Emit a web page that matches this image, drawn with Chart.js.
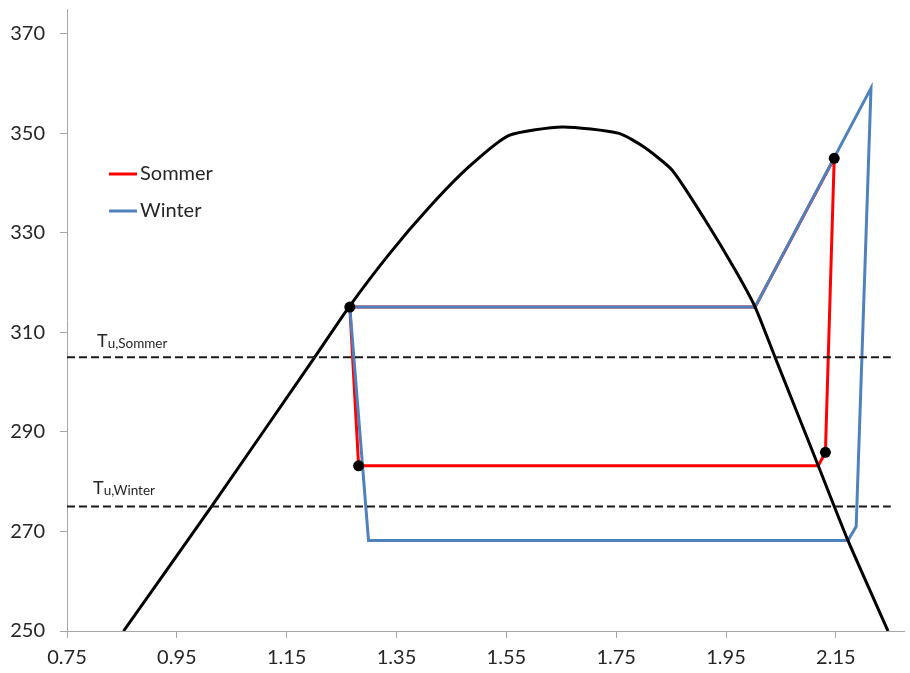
<!DOCTYPE html>
<html>
<head>
<meta charset="utf-8">
<script src="https://cdn.jsdelivr.net/npm/chart.js@4/dist/chart.umd.min.js"></script>
<style>
  body { margin: 0; background: #fff; }
  canvas { display: block; }
</style>
</head>
<body>
<canvas id="chart" width="910" height="673"></canvas>
<script>
// axis ticks
var xTicks = [0.75, 0.95, 1.15, 1.35, 1.55, 1.75, 1.95, 2.15];
var yTicks = [250, 270, 290, 310, 330, 350, 370];

// saturation dome
var domeX = [0.853, 1.013, 1.199, 1.264, 1.337, 1.41, 1.482, 1.555, 1.652, 1.755, 1.80, 1.852, 1.912, 1.967, 2.003, 2.039, 2.118, 2.172, 2.245];
var domeY = [250, 275, 304.7, 315.2, 325.8, 335.2, 343.3, 349.6, 351.3, 350.0, 347.3, 342.6, 332.6, 322.5, 315.1, 305.1, 283.2, 268.2, 250];

// Sommer cycle
var sommerX = [1.265, 1.281, 2.118, 2.131, 2.147, 2.003, 1.265];
var sommerY = [315.1, 283.2, 283.2, 285.9, 345.0, 315.1, 315.1];

// Winter cycle
var winterX = [1.265, 1.299, 2.172, 2.187, 2.214, 2.003, 1.265];
var winterY = [315.1, 268.2, 268.2, 271.0, 359.1, 315.1, 315.1];

// marked state points
var dotX = [1.265, 1.281, 2.131, 2.147];
var dotY = [315.1, 283.2, 285.9, 345.0];

// ambient temperatures
var tuSommer = 305;
var tuWinter = 275;
var tuX = [0.75, 2.25];

function pts(xs, ys) {
  var out = [];
  for (var i = 0; i < xs.length; i++) {
    out.push({x: xs[i], y: ys[i]});
  }
  return out;
}

function hline(y) {
  return tuX.map(function(x) { return {x: x, y: y}; });
}

var FONT = 'Lato, "Noto Sans", sans-serif';

// legend and Tu labels drawn on top of the plot
var overlay = {
  id: 'overlay',
  afterDraw: function(chart) {
    var ctx = chart.ctx;
    var area = chart.chartArea;
    var ys = chart.scales.y;
    ctx.save();

    // legend
    var items = [['Sommer', '#ff0000', 174], ['Winter', '#4f81bd', 211]];
    items.forEach(function(it) {
      ctx.strokeStyle = it[1];
      ctx.lineWidth = 3;
      ctx.beginPath();
      ctx.moveTo(109, it[2]);
      ctx.lineTo(137, it[2]);
      ctx.stroke();
      ctx.fillStyle = '#262626';
      ctx.font = '20px ' + FONT;
      ctx.textBaseline = 'middle';
      ctx.fillText(it[0], 140, it[2]);
    });

    // Tu labels
    function tu(x, y, sub) {
      ctx.fillStyle = '#262626';
      ctx.textBaseline = 'alphabetic';
      ctx.font = '18px ' + FONT;
      ctx.fillText('T', x, y);
      var w = ctx.measureText('T').width;
      ctx.font = '13.5px ' + FONT;
      ctx.fillText(sub, x + w, y + 1);
    }
    tu(area.left + 30, ys.getPixelForValue(tuSommer) - 10, 'u,Sommer');
    tu(area.left + 26, ys.getPixelForValue(tuWinter) - 13, 'u,Winter');

    ctx.restore();
  }
};

new Chart(document.getElementById('chart'), {
  type: 'scatter',
  data: {
    datasets: [
      {
        data: pts(dotX, dotY),
        showLine: false,
        pointRadius: 5.5,
        pointBackgroundColor: '#000',
        pointBorderWidth: 0,
        order: 0
      },
      {
        data: hline(tuSommer),
        showLine: true,
        borderColor: '#1a1a1a',
        borderWidth: 2,
        borderDash: [8, 4],
        pointRadius: 0,
        order: 1
      },
      {
        data: hline(tuWinter),
        showLine: true,
        borderColor: '#1a1a1a',
        borderWidth: 2,
        borderDash: [8, 4],
        pointRadius: 0,
        order: 2
      },
      {
        data: pts(domeX, domeY),
        showLine: true,
        borderColor: '#000',
        borderWidth: 3,
        pointRadius: 0,
        tension: 0.2,
        order: 3
      },
      {
        data: pts(winterX, winterY),
        showLine: true,
        borderColor: '#4f81bd',
        borderWidth: 3,
        pointRadius: 0,
        order: 4
      },
      {
        data: pts(sommerX, sommerY),
        showLine: true,
        borderColor: '#ff0000',
        borderWidth: 3,
        pointRadius: 0,
        order: 5
      }
    ]
  },
  options: {
    responsive: false,
    animation: false,
    layout: { padding: { top: 9, right: 2, left: 0, bottom: 0 } },
    plugins: {
      legend: { display: false },
      tooltip: { enabled: false }
    },
    scales: {
      x: {
        type: 'linear',
        min: 0.75,
        max: 2.275,
        afterBuildTicks: function(scale) {
          scale.ticks = xTicks.map(function(v) { return {value: v}; });
        },
        afterFit: function(scale) {
          scale.height = 42;
          scale.paddingLeft = 0;
          scale.paddingRight = 0;
        },
        ticks: {
          color: '#262626',
          font: { family: FONT, size: 20 },
          padding: 8,
          maxRotation: 0,
          callback: function(v) { return v.toFixed(2); }
        },
        grid: {
          drawOnChartArea: false,
          drawTicks: true,
          tickLength: 7,
          color: '#a6a6a6'
        },
        border: { color: '#a6a6a6', width: 1 }
      },
      y: {
        type: 'linear',
        min: 250,
        max: 375,
        afterBuildTicks: function(scale) {
          scale.ticks = yTicks.map(function(v) { return {value: v}; });
        },
        afterFit: function(scale) {
          scale.width = 67;
          scale.paddingTop = 0;
          scale.paddingBottom = 0;
        },
        ticks: {
          color: '#262626',
          font: { family: FONT, size: 20 },
          padding: 15
        },
        grid: {
          drawOnChartArea: false,
          drawTicks: true,
          tickLength: 7,
          color: '#a6a6a6'
        },
        border: { color: '#a6a6a6', width: 1 }
      }
    }
  },
  plugins: [overlay]
});
</script>
</body>
</html>
